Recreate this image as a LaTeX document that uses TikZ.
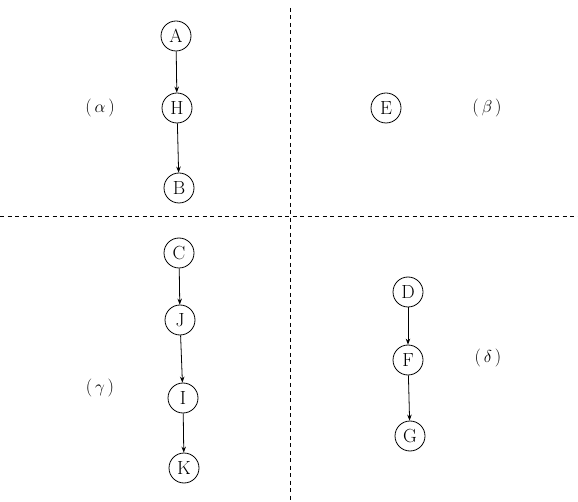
\documentclass[tikz,border=0pt]{standalone}
\usetikzlibrary{arrows.meta}
\begin{document}
\begin{tikzpicture}[x=1pt,y=-1pt,
  vtx/.style={circle,draw,line width=0.8pt,minimum size=30pt,inner sep=0pt,font=\fontsize{19}{22}\selectfont},
  lbl/.style={font=\fontsize{18}{22}\selectfont},
  edge/.style={line width=0.8pt,-{Stealth[length=6pt,width=4.5pt]}},
  divider/.style={dash pattern=on 4pt off 3.5pt,line width=0.6pt}]
\useasboundingbox (0,0) rectangle (578,502);
\fill[white] (0,0) rectangle (578,502);
\coordinate (vt) at (290,8);
\coordinate (vb) at (290,502);
\coordinate (hl) at (0,216);
\coordinate (hr) at (578,216);
\draw[divider] (vt) -- (vb);
\draw[divider] (hl) -- (hr);
\node[vtx] (A) at (176,36) {A};
\node[vtx] (H) at (177,108) {H};
\node[vtx] (B) at (179,188) {B};
\node[vtx] (E) at (386,108) {E};
\node[vtx] (C) at (179,253) {C};
\node[vtx] (J) at (180,320) {J};
\node[vtx] (I) at (183,398) {I};
\node[vtx] (K) at (184,468) {K};
\node[vtx] (D) at (408,292) {D};
\node[vtx] (F) at (408,360) {F};
\node[vtx] (G) at (410,436) {G};
\node[lbl] (la) at (100,108) {($\,\alpha\,$)};
\node[lbl] (lb) at (487,108) {($\,\beta\,$)};
\node[lbl] (lc) at (100,388) {($\,\gamma\,$)};
\node[lbl] (ld) at (488,358) {($\,\delta\,$)};
\draw[edge] (A) -- (H);
\draw[edge] (H) -- (B);
\draw[edge] (C) -- (J);
\draw[edge] (J) -- (I);
\draw[edge] (I) -- (K);
\draw[edge] (D) -- (F);
\draw[edge] (F) -- (G);
\end{tikzpicture}
\end{document}
